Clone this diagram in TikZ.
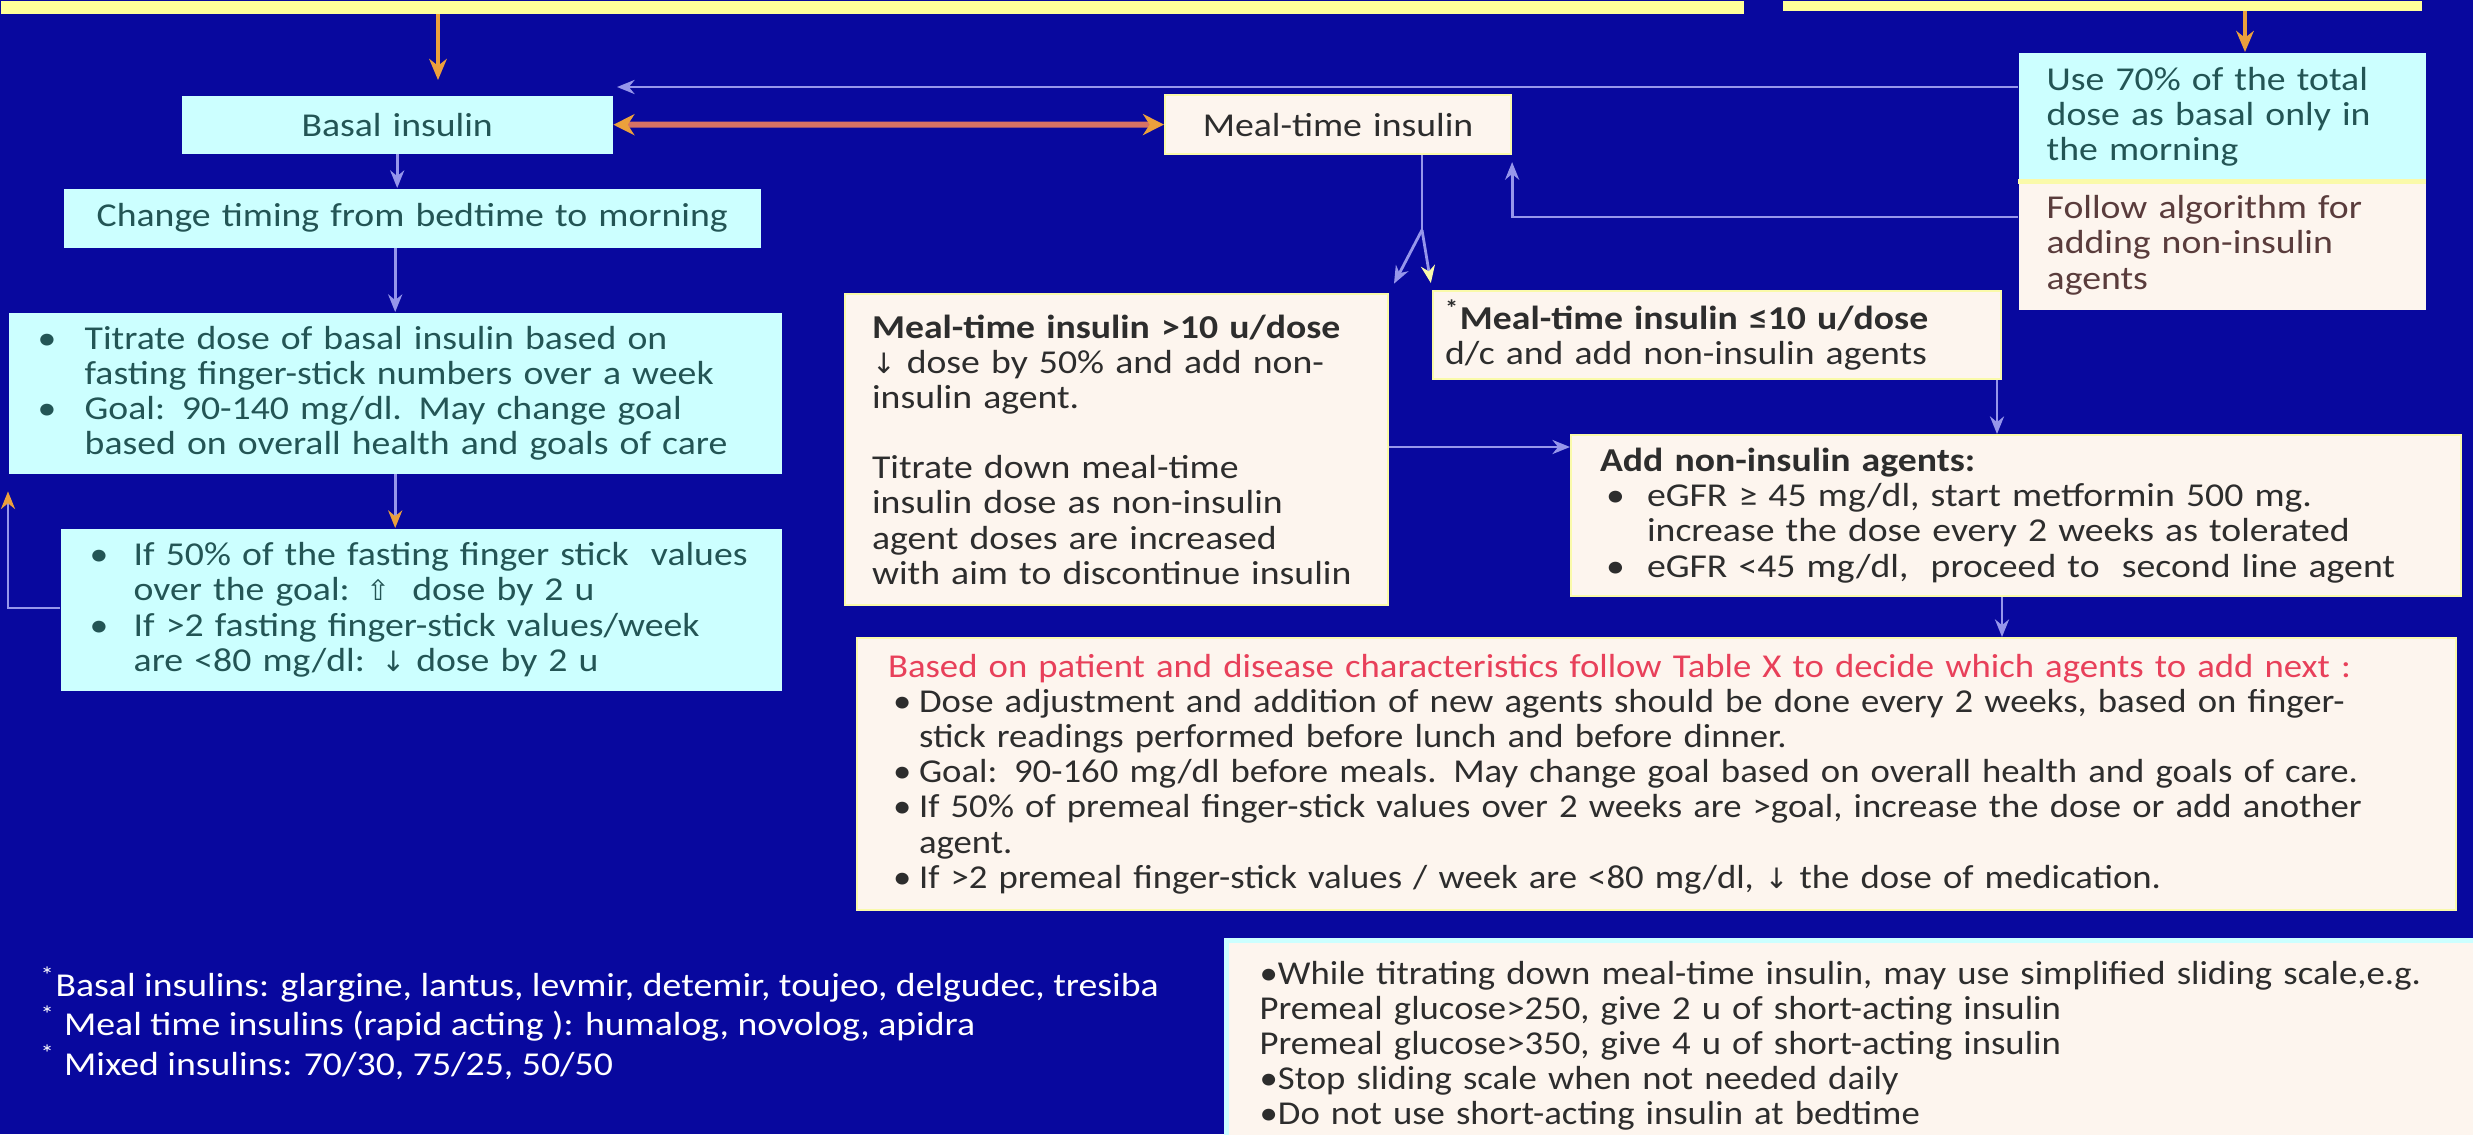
\documentclass[tikz,border=0pt]{standalone}
\usepackage{fontspec}
\setmainfont{Carlito}[FakeStretch=1.13]
\newfontfamily\narrowfont{Carlito}[FakeStretch=1.1]
\newfontfamily\symfont{DejaVu Sans}
\usepackage{xcolor}
\usetikzlibrary{arrows.meta,positioning,calc}

\definecolor{bgblue}{RGB}{8,8,158}
\definecolor{topyellow}{RGB}{255,255,153}
\definecolor{boxcyan}{RGB}{204,255,255}
\definecolor{boxcream}{RGB}{253,245,238}
\definecolor{paleyellow}{RGB}{250,250,170}
\definecolor{tealtext}{RGB}{35,85,85}
\definecolor{greytext}{RGB}{45,45,45}
\definecolor{browntext}{RGB}{90,60,60}
\definecolor{headred}{RGB}{232,64,90}
\definecolor{arrorange}{RGB}{235,160,60}
\definecolor{coral}{RGB}{215,115,100}
\definecolor{lavender}{RGB}{150,150,235}

\newcommand{\basefont}{\fontsize{9.5}{10}\selectfont}
\newcommand{\bul}[1]{\makebox[#1][l]{\textbullet}}
\newcommand{\uparr}{{\symfont\fontsize{8}{10}\selectfont ⇧}}
\newcommand{\dnarr}{{\symfont\fontsize{8}{10}\selectfont ↓}}

\tikzset{
  box/.style={anchor=north west, inner ysep=0pt, align=left, font=\basefont},
  cyanbox/.style={box, fill=boxcyan, text=tealtext},
  creambox/.style={box, fill=boxcream, draw=paleyellow, line width=0.6pt, text=greytext},
  yelbox/.style={anchor=north west, inner sep=0pt, fill=topyellow},
  orangearr/.style={draw=arrorange, line width=1.1pt, -{Stealth[length=6pt,width=5pt]}},
  lavarr/.style={draw=lavender, line width=0.8pt, -{Stealth[length=5pt,width=4pt]}},
  lavline/.style={draw=lavender, line width=0.8pt},
}

\begin{document}
\begin{tikzpicture}
\useasboundingbox (0,0) rectangle (24.73,-11.34);
\fill[bgblue] (0,0) rectangle (24.73,-11.34);

% boxes cut off at the top
\node[yelbox, minimum width=17.43cm, minimum height=0.13cm] (topL) at (0,0) {};
\node[yelbox, minimum width=6.39cm, minimum height=0.10cm] (topR) at (17.82,0) {};

% basal branch
\node[cyanbox, inner xsep=0pt, text width=4.31cm, minimum height=0.58cm, align=center] (basal) at (1.81,-0.95) {Basal insulin};
\node[cyanbox, inner xsep=0pt, text width=6.97cm, minimum height=0.59cm, align=center] (change) at (0.63,-1.88) {Change timing from bedtime to morning};
\node[cyanbox, inner xsep=0.29cm, text width=7.15cm, minimum height=1.61cm] (titrate) at (0.08,-3.12) {%
\bul{0.47cm}Titrate dose of basal insulin based on\\
\hspace*{0.47cm}fasting finger-stick numbers over a week\\
\bul{0.47cm}Goal: 90-140 mg/dl. May change goal\\
\hspace*{0.47cm}based on overall health and goals of care};
\node[cyanbox, inner xsep=0.29cm, text width=6.63cm, minimum height=1.62cm] (ifgoal) at (0.60,-5.28) {%
\bul{0.44cm}If 50\% of the fasting finger stick\ \ values\\
\hspace*{0.44cm}over the goal: \uparr\ \ dose by 2 u\\
\bul{0.44cm}If >2 fasting finger-stick values/week\\
\hspace*{0.44cm}are <80 mg/dl: \dnarr\ dose by 2 u};

% meal-time branch
\node[creambox, inner xsep=0pt, text width=3.46cm, minimum height=0.59cm, align=center] (meal) at (11.64,-0.94) {Meal-time insulin};
\node[creambox, inner xsep=0.27cm, text width=4.89cm, minimum height=3.11cm] (bigdose) at (8.44,-2.93) {%
\textbf{Meal-time insulin >10 u/dose}\\
\dnarr\ dose by 50\% and add non-\\
insulin agent.\\[10pt]
Titrate down meal-time\\
insulin dose as non-insulin\\
agent doses are increased\\
with aim to discontinue insulin};
\node[creambox, inner xsep=0.12cm, text width=5.44cm, minimum height=0.88cm] (smalldose) at (14.32,-2.90) {%
\textbf{\textsuperscript{*}Meal-time insulin ≤10 u/dose}\\
d/c and add non-insulin agents};
\node[creambox, inner xsep=0.29cm, text width=8.32cm, minimum height=1.61cm] (addagents) at (15.70,-4.34) {%
\textbf{Add non-insulin agents:}\\
\hspace*{0.06cm}\bul{0.41cm}eGFR ≥ 45 mg/dl, start metformin 500 mg.\\
\hspace*{0.47cm}increase the dose every 2 weeks as tolerated\\
\hspace*{0.06cm}\bul{0.41cm}eGFR <45 mg/dl,\ \ proceed to\ \ second line agent};
\node[creambox, font=\basefont\narrowfont, inner xsep=0.31cm, text width=15.37cm, minimum height=2.72cm] (nextagents) at (8.56,-6.37) {%
{\color{headred}Based on patient and disease characteristics follow Table X to decide which agents to add next :}\\
\hspace*{0.05cm}\bul{0.26cm}Dose adjustment and addition of new agents should be done every 2 weeks, based on finger-\\
\hspace*{0.31cm}stick readings performed before lunch and before dinner.\\
\hspace*{0.05cm}\bul{0.26cm}Goal: 90-160 mg/dl before meals. May change goal based on overall health and goals of care.\\
\hspace*{0.05cm}\bul{0.26cm}If 50\% of premeal finger-stick values over 2 weeks are >goal, increase the dose or add another\\
\hspace*{0.31cm}agent.\\
\hspace*{0.05cm}\bul{0.26cm}If >2 premeal finger-stick values / week are <80 mg/dl, \dnarr\ the dose of medication.};

% mixed insulin branch
\node[cyanbox, inner xsep=0.28cm, text width=3.51cm, minimum height=1.28cm] (useseventy) at (20.18,-0.52) {%
Use 70\% of the total\\dose as basal only in\\the morning};
\node[box, fill=boxcream, text=browntext, inner xsep=0.28cm, text width=3.51cm, minimum height=1.29cm] (follow) at (20.18,-1.80) {%
Follow algorithm for\\adding non-insulin\\agents};
\draw[paleyellow, line width=1.2pt] (useseventy.south west) -- (useseventy.south east);

% footnotes and sliding scale
\node[anchor=west, align=left, font=\basefont, text=white, inner sep=0pt] (notes) at (0.40,-10.23) {%
\textsuperscript{*}Basal insulins: glargine, lantus, levmir, detemir, toujeo, delgudec, tresiba\\
\textsuperscript{*} Meal time insulins (rapid acting ): humalog, novolog, apidra\\
\textsuperscript{*} Mixed insulins: 70/30, 75/25, 50/50};
\node[box, font=\basefont\narrowfont, fill=boxcream, draw=boxcyan, line width=1.5pt, text=greytext, inner xsep=0.33cm, text width=12.4cm, minimum height=2.10cm] (sliding) at (12.24,-9.38) {%
\textbullet While titrating down meal-time insulin, may use simplified sliding scale,e.g.\\
Premeal glucose>250, give 2 u of short-acting insulin\\
Premeal glucose>350, give 4 u of short-acting insulin\\
\textbullet Stop sliding scale when not needed daily\\
\textbullet Do not use short-acting insulin at bedtime};

% connectors
\coordinate (basalin) at (4.38,-0.80);
\coordinate (basaltop) at (6.17,-0.87);
\coordinate (split) at (14.22,-2.30);
\draw[orangearr] (topL.south -| basalin) -- (basalin);
\draw[orangearr] (22.45,0 |- topR.south) -- (22.45,0 |- useseventy.north);
\draw[draw=coral, line width=1.7pt, {Stealth[color=arrorange,length=6pt,width=6pt]}-{Stealth[color=arrorange,length=6pt,width=6pt]}] (basal.east) -- (meal.west);
\draw[lavarr] (useseventy.west |- basaltop) -- (basaltop);
\draw[lavarr, shorten >=0.07cm] (follow.west |- 0,-2.17) -| (meal.south east);
\draw[lavarr] (basal.south) -- (basal.south |- change.north);
\draw[lavarr] (titrate.north |- change.south) -- (titrate.north);
\draw[lavarr, -{Stealth[color=arrorange,length=5pt,width=4pt]}] (titrate.south) -- (titrate.south |- ifgoal.north);
\draw[lavarr, -{Stealth[color=arrorange,length=5pt,width=4pt]}, shorten >=0.17cm] (ifgoal.west |- 0,-6.08) -| (titrate.south west);
\draw[lavline] (split |- meal.south) -- (split);
\draw[lavarr, shorten >=3pt] (split) -- (bigdose.north east);
\draw[lavarr, -{Stealth[color=paleyellow,length=5pt,width=4pt]}, shorten >=2pt] (split) -- (smalldose.north west);
\draw[lavarr] (bigdose.east |- 0,-4.47) -- (addagents.west |- 0,-4.47);
\draw[lavarr] (19.97,0 |- smalldose.south) -- (19.97,0 |- addagents.north);
\draw[lavarr] (20.02,0 |- addagents.south) -- (20.02,0 |- nextagents.north);
\end{tikzpicture}
\end{document}
